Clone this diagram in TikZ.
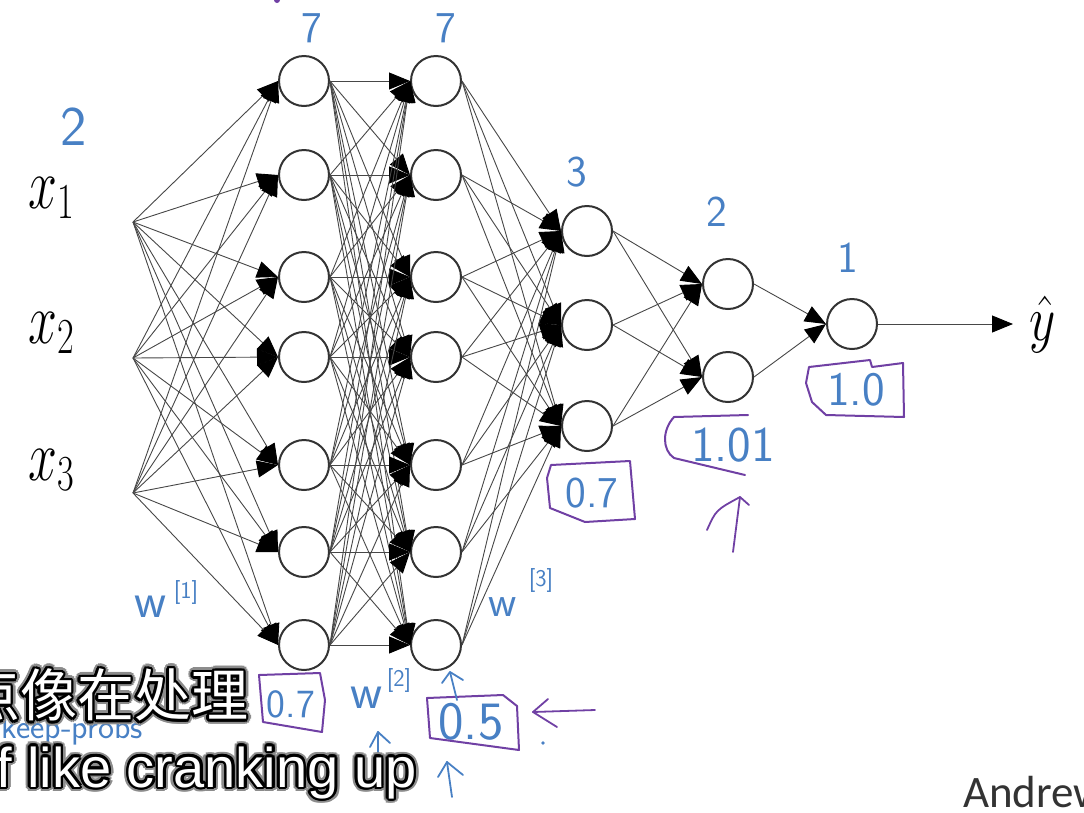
\RequirePackage{fix-cm}
\documentclass[tikz,border=0pt]{standalone}
\usepackage{graphicx}
\usepackage{fontspec}
\newfontfamily\subfont{Liberation Sans}
\newfontfamily\cjkfont{Noto Sans CJK SC}
\newfontfamily\slidefont{Carlito}
\usetikzlibrary{arrows.meta}
\definecolor{penblue}{RGB}{72,128,196}
\definecolor{penpurple}{RGB}{112,64,164}
\newcommand{\penfont}[1]{\sffamily\fontsize{#1}{#1}\selectfont}
\newcommand{\mathlabel}[1]{\scalebox{0.72}[1]{\fontsize{72}{72}\selectfont$#1$}}
\tikzset{
    unit/.style={circle, draw=black!80, line width=2pt, fill=white, minimum size=50pt, inner sep=0pt},
    wire/.style={draw=black!72, line width=0.9pt, -{Triangle[length=21pt, width=17pt, black]}},
    pen_text/.style={text=penblue, inner sep=0pt},
    pen_box/.style={draw=penpurple, line width=2pt, line join=round, line cap=round},
    pen_arrow/.style={line width=1.8pt, line join=round, line cap=round},
    sub_cn/.style={anchor=west, inner sep=0pt, font=\cjkfont\fontsize{57}{57}\selectfont},
    sub_en/.style={anchor=base west, inner sep=0pt, font=\subfont\fontsize{56}{56}\selectfont}
}

\begin{document}
\begin{tikzpicture}[x=1pt, y=-1pt]
    \useasboundingbox (0,0) rectangle (1084,812);
    \clip (0,0) rectangle (1084,812);

    % units
    \foreach \i/\y in {1/81, 2/175, 3/277, 4/357, 5/465, 6/552, 7/645} {
        \node (a\i) [unit] at (304,\y) {};
        \node (b\i) [unit] at (436,\y) {};
    }
    \foreach \i/\y in {1/231, 2/325, 3/426} {
        \node (c\i) [unit] at (587,\y) {};
    }
    \node (d1) [unit] at (728,284) {};
    \node (d2) [unit] at (728,377) {};
    \node (e1) [unit] at (852,324) {};

    % inputs and output
    \coordinate (in1) at (133,222);
    \coordinate (in2) at (133,358);
    \coordinate (in3) at (133,493);
    \coordinate (yend) at (1013,324);
    \node (lx1) [anchor=base west, inner sep=0pt] at (28,208) {\mathlabel{x_1}};
    \node (lx2) [anchor=base west, inner sep=0pt] at (28,343) {\mathlabel{x_2}};
    \node (lx3) [anchor=base west, inner sep=0pt] at (28,480) {\mathlabel{x_3}};
    \node (lyhat) [anchor=base west, inner sep=0pt] at (1029,340) {\scalebox{0.8}[1]{\fontsize{64}{64}\selectfont$\hat{y}$}};

    % connections
    \foreach \i in {1,2,3}
        \foreach \j in {1,...,7}
            \draw [wire] (in\i) -- (a\j.west);
    \foreach \i in {1,...,7}
        \foreach \j in {1,...,7}
            \draw [wire] (a\i.east) -- (b\j.west);
    \foreach \i in {1,...,7}
        \foreach \j in {1,2,3}
            \draw [wire] (b\i.east) -- (c\j.west);
    \foreach \i in {1,2,3}
        \foreach \j in {1,2}
            \draw [wire] (c\i.east) -- (d\j.west);
    \draw [wire] (d1.east) -- (e1.west);
    \draw [wire] (d2.east) -- (e1.west);
    \draw [wire] (e1.east) -- (yend);

    % handwritten unit counts
    \node (n0) [pen_text, font=\penfont{56}] at (74,127) {2};
    \node (n1) [pen_text, font=\penfont{44}] at (312,28) {7};
    \node (n2) [pen_text, font=\penfont{44}] at (446,28) {7};
    \node (n3) [pen_text, font=\penfont{44}] at (577,172) {3};
    \node (n4) [pen_text, font=\penfont{44}] at (717,212) {2};
    \node (n5) [pen_text, font=\penfont{44}] at (848,258) {1};
    \fill [penpurple] (277,0) circle (3pt);

    % weights
    \node (w1) [pen_text, font=\penfont{50}] at (151,607) {w};
    \node (w1s) [pen_text, font=\penfont{24}] at (186,592) {[1]};
    \node (w2) [pen_text, font=\penfont{50}] at (367,698) {w};
    \node (w2s) [pen_text, font=\penfont{24}] at (399,680) {[2]};
    \node (w3) [pen_text, font=\penfont{44}] at (503,607) {w};
    \node (w3s) [pen_text, font=\penfont{24}] at (541,580) {[3]};

    % keep-prob boxes
    \node (p1) [pen_text, font=\penfont{40}] at (291,704) {0.7};
    \draw [pen_box] (259,675) -- (320,673) -- (325,700) -- (322,732) -- (263,722) -- cycle;
    \node (p2) [pen_text, font=\penfont{54}] at (471,722) {0.5};
    \draw [pen_box] (427,698) -- (503,695) -- (517,706) -- (519,750) -- (430,738) -- cycle;
    \node (p3) [pen_text, font=\penfont{44}] at (592,493) {0.7};
    \draw [pen_box] (547,478) -- (551,465) -- (630,461) -- (635,519) -- (585,522) -- (550,508) -- cycle;
    \node (p4) [pen_text, font=\penfont{50}] at (733,445) {1.01};
    \draw [pen_box] (748,415) -- (674,417) .. controls (662,430) and (662,450) .. (674,458) -- (745,475);
    \node (p5) [pen_text, font=\penfont{48}] at (856,390) {1.0};
    \draw [pen_box] (809,367) -- (870,360) -- (872,367) -- (903,363) -- (904,417) -- (826,415) -- (812,402) -- (806,383) -- cycle;

    % pen arrows
    \draw [pen_arrow, penpurple] (733,552) -- (740,497);
    \draw [pen_arrow, penpurple] (707,530) .. controls (716,510) .. (740,497) -- (749,505);
    \draw [pen_arrow, penpurple] (595,710) -- (533,712);
    \draw [pen_arrow, penpurple] (548,699) -- (533,712) -- (557,727);
    \fill [penblue] (543,743) circle (1.8pt);
    \draw [pen_arrow, penblue] (457,700) -- (450,672);
    \draw [pen_arrow, penblue] (442,683) -- (450,672) -- (463,680);
    \draw [pen_arrow, penblue] (378,758) -- (378,732);
    \draw [pen_arrow, penblue] (370,747) -- (378,732) -- (390,743);
    \draw [pen_arrow, penblue] (452,797) -- (447,762);
    \draw [pen_arrow, penblue] (438,777) -- (447,762) -- (463,775);
    \node (kp) [pen_text, font=\penfont{34}, anchor=east] at (143,730) {keep-probs};

    % subtitles
    \foreach \a in {0,24,...,336} {
        \node (cn_glow\a) [sub_cn, text=black!45] at ({-37+5*cos(\a)},{695+5*sin(\a)}) {点像在处理};
        \node (en_glow\a) [sub_en, text=black!45] at ({-35+5*cos(\a)},{787+5*sin(\a)}) {of like cranking up};
    }
    \foreach \a in {0,24,...,336} {
        \node (cn_edge\a) [sub_cn, text=black] at ({-37+2.6*cos(\a)},{695+2.6*sin(\a)}) {点像在处理};
        \node (en_edge\a) [sub_en, text=black] at ({-35+2.6*cos(\a)},{787+2.6*sin(\a)}) {of like cranking up};
    }
    \node (sub1) [sub_cn, text=white] at (-37,695) {点像在处理};
    \node (sub2) [sub_en, text=white] at (-35,787) {of like cranking up};

    \node (author) [anchor=base west, inner sep=0pt, text=black!80, font=\slidefont\fontsize{45}{45}\selectfont] at (963,807) {Andrew};
\end{tikzpicture}
\end{document}
